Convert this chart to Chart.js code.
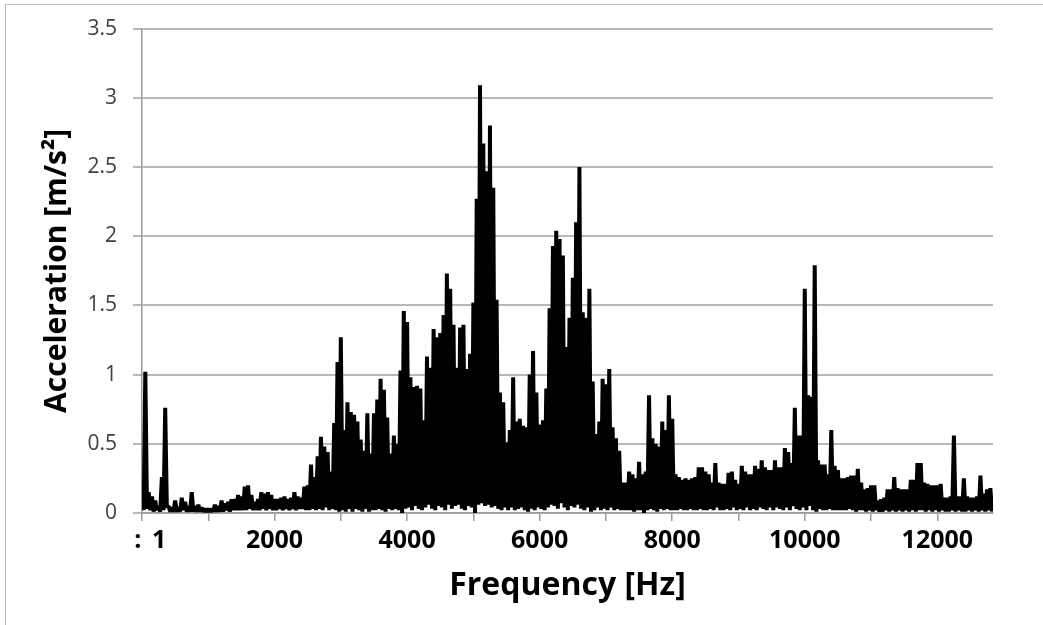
<!DOCTYPE html>
<html><head><meta charset="utf-8">
<script src="https://cdn.jsdelivr.net/npm/chart.js@4.4.1/dist/chart.umd.min.js"></script>
<style>
html,body{margin:0;padding:0;background:#fff;}
#wrap{position:relative;width:1043px;height:625px;overflow:hidden;}
#frame{position:absolute;left:5px;top:4px;width:1100px;height:700px;border-left:1.5px solid #b8b8b8;border-top:1.5px solid #b8b8b8;pointer-events:none;}
canvas{position:absolute;left:0;top:0;}
</style></head><body>
<div id="wrap"><canvas id="c" width="1043" height="625"></canvas><div id="frame"></div></div>
<script>
// frequency step between successive peak readings (Hz)
const freqStep = 50;
// upper envelope (local maxima), one per 50 Hz bin, 0..12800 Hz
const peakValues = [
  0.18,1.02,0.15,0.12,0.09,0.05,0.26,0.76,0.05,0.04,
  0.09,0.04,0.11,0.08,0.05,0.15,0.05,0.06,0.04,0.03,
  0.03,0.03,0.06,0.05,0.09,0.07,0.08,0.10,0.10,0.13,
  0.12,0.19,0.20,0.13,0.08,0.10,0.15,0.14,0.15,0.13,
  0.10,0.10,0.11,0.12,0.10,0.11,0.15,0.12,0.11,0.19,
  0.20,0.35,0.26,0.41,0.55,0.48,0.44,0.30,0.65,1.09,
  1.27,0.60,0.80,0.73,0.71,0.66,0.53,0.45,0.72,0.43,
  0.72,0.82,0.97,0.89,0.69,0.43,0.56,0.50,1.03,1.46,
  1.38,0.98,0.91,0.92,0.90,0.67,1.13,1.05,1.33,1.27,
  1.30,1.43,1.73,1.62,1.36,1.05,1.34,1.36,1.04,1.15,
  1.52,2.27,3.09,2.67,2.47,2.80,2.35,1.54,0.87,0.80,
  0.51,0.60,0.98,0.66,0.68,0.63,0.62,1.00,1.17,0.87,
  0.64,0.67,0.90,1.48,1.93,2.04,1.98,1.86,1.20,1.41,
  1.70,2.10,2.50,1.45,1.41,1.62,0.95,0.57,0.66,0.97,
  0.93,1.04,0.62,0.54,0.45,0.22,0.22,0.30,0.28,0.25,
  0.37,0.28,0.30,0.85,0.54,0.50,0.48,0.66,0.60,0.85,
  0.68,0.28,0.26,0.24,0.25,0.24,0.25,0.26,0.33,0.33,
  0.30,0.28,0.22,0.36,0.22,0.21,0.21,0.29,0.30,0.24,
  0.21,0.34,0.30,0.28,0.28,0.34,0.32,0.38,0.33,0.31,
  0.31,0.38,0.33,0.33,0.47,0.44,0.36,0.76,0.56,0.56,
  1.62,0.85,0.84,1.79,0.38,0.35,0.35,0.28,0.60,0.34,
  0.31,0.25,0.25,0.26,0.27,0.27,0.32,0.22,0.17,0.18,
  0.20,0.20,0.09,0.10,0.11,0.17,0.17,0.26,0.18,0.17,
  0.17,0.17,0.24,0.24,0.36,0.36,0.22,0.21,0.20,0.20,
  0.20,0.21,0.11,0.11,0.12,0.56,0.12,0.12,0.25,0.12,
  0.11,0.11,0.12,0.27,0.14,0.17,0.18
];
// lower envelope (local minima) between successive peaks
const troughValues = [
  0.02,0.03,0.02,0.01,0.02,0.01,0.02,0.04,0.01,0.01,
  0.01,0.01,0.02,0.01,0.01,0.01,0.01,0.01,0.01,0.01,
  0.01,0.01,0.01,0.01,0.01,0.02,0.01,0.02,0.02,0.02,
  0.02,0.02,0.03,0.02,0.02,0.02,0.03,0.02,0.03,0.02,
  0.02,0.03,0.02,0.03,0.02,0.03,0.02,0.03,0.03,0.02,
  0.02,0.03,0.02,0.03,0.02,0.04,0.02,0.03,0.02,0.01,
  0.02,0.01,0.03,0.01,0.03,0.02,0.01,0.03,0.01,0.02,
  0.02,0.03,0.02,0.01,0.03,0.02,0.03,0.02,0.00,0.03,
  0.04,0.02,0.05,0.03,0.02,0.04,0.06,0.03,0.02,0.05,
  0.04,0.02,0.06,0.03,0.05,0.06,0.03,0.02,0.05,0.04,
  0.00,0.06,0.07,0.05,0.06,0.04,0.05,0.03,0.02,0.04,
  0.02,0.04,0.02,0.03,0.04,0.02,0.01,0.03,0.02,0.04,
  0.03,0.02,0.04,0.06,0.05,0.03,0.07,0.04,0.02,0.05,
  0.04,0.06,0.03,0.02,0.04,0.01,0.02,0.04,0.02,0.03,
  0.02,0.04,0.02,0.03,0.02,0.02,0.02,0.02,0.01,0.02,
  0.02,0.00,0.02,0.03,0.02,0.01,0.03,0.02,0.03,0.02,
  0.02,0.02,0.03,0.02,0.02,0.03,0.02,0.02,0.03,0.02,
  0.02,0.03,0.02,0.04,0.02,0.02,0.03,0.02,0.04,0.02,
  0.03,0.02,0.04,0.02,0.03,0.02,0.04,0.03,0.02,0.04,
  0.02,0.04,0.03,0.02,0.04,0.02,0.05,0.03,0.02,0.04,
  0.02,0.05,0.02,0.01,0.03,0.02,0.02,0.03,0.02,0.02,
  0.02,0.02,0.02,0.03,0.02,0.01,0.02,0.02,0.01,0.02,
  0.01,0.02,0.01,0.01,0.02,0.01,0.02,0.01,0.02,0.01,
  0.02,0.01,0.02,0.01,0.02,0.02,0.01,0.02,0.01,0.02,
  0.01,0.02,0.01,0.01,0.02,0.01,0.02,0.01,0.01,0.02,
  0.01,0.02,0.01,0.02,0.01,0.02,0.01
];
// x tick marks every 1000 Hz; labels every 2000 Hz (the first category label reads "1")
const xTickMarks = [0,1000,2000,3000,4000,5000,6000,7000,8000,9000,10000,11000,12000];
const xTickValues = [0, 2000, 4000, 6000, 8000, 10000, 12000];
const xTickLabels = ['\u2002\u2009:\u2009 1', '2000', '4000', '6000', '8000', '10000', '12000'];
const yTickValues = [0, 0.5, 1, 1.5, 2, 2.5, 3, 3.5];
const yTickLabels = ['0', '0.5', '1', '1.5', '2', '2.5', '3', '3.5'];
const xMax = 12840;

const points = [];
peakValues.forEach((v, i) => {
  points.push({x: i * freqStep, y: v});
  points.push({x: i * freqStep + freqStep / 2, y: troughValues[i]});
});

const gridGray = '#b8b8b8';
const axisGray = '#9a9a9a';

function labelFor(vals, labels, v) {
  const k = vals.findIndex(t => Math.abs(t - v) < 1e-6 * Math.max(1, Math.abs(t)));
  return k >= 0 ? labels[k] : '';
}

new Chart(document.getElementById('c'), {
  type: 'line',
  data: { datasets: [{
    data: points,
    borderColor: '#000',
    borderWidth: 4,
    borderJoinStyle: 'bevel',
    pointRadius: 0,
    fill: false,
    tension: 0
  }]},
  options: {
    responsive: false,
    animation: false,
    devicePixelRatio: 1,
    layout: { padding: { top: 28, right: 50, left: 0, bottom: 0 } },
    plugins: { legend: { display: false }, tooltip: { enabled: false } },
    scales: {
      x: {
        type: 'linear', min: 0, max: xMax,
        afterFit: s => { s.height = 112; },
        afterBuildTicks: s => { s.ticks = xTickMarks.map(v => ({value: v})); },
        ticks: {
          autoSkip: false, maxRotation: 0, minRotation: 0,
          padding: 5, color: '#000',
          font: { family: 'Open Sans', size: 25, weight: 'bold' },
          callback: function(v) { return labelFor(xTickValues, xTickLabels, v); }
        },
        grid: { drawOnChartArea: false, drawTicks: true, tickLength: 8, color: axisGray, lineWidth: 1.5 },
        border: { display: true, color: axisGray, width: 1.5 },
        title: { display: true, text: 'Frequency [Hz]', color: '#000',
          font: { family: 'Open Sans', size: 32, weight: 'bold' }, padding: { top: 0, bottom: 20 } }
      },
      y: {
        min: 0, max: 3.5,
        afterFit: s => { s.width = 142; },
        afterBuildTicks: s => { s.ticks = yTickValues.map(v => ({value: v})); },
        ticks: { padding: 16, color: '#404040', autoSkip: false,
          font: { family: 'Open Sans', size: 21 },
          callback: function(v) { return labelFor(yTickValues, yTickLabels, v); } },
        grid: { color: gridGray, lineWidth: 2, tickLength: 9 },
        border: { display: true, color: axisGray, width: 1.5 },
        title: { display: true, text: 'Acceleration [m/s²]', color: '#000',
          font: { family: 'Open Sans', size: 30, weight: 'bold' }, padding: { top: 39, bottom: 0 } }
      }
    }
  }
});
</script>
</body></html>
